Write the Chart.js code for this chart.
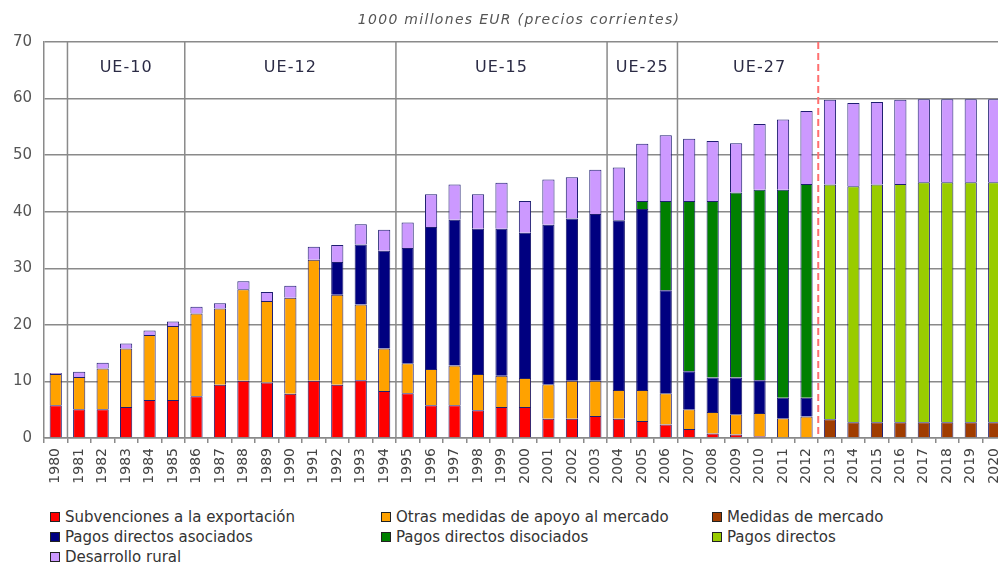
<!DOCTYPE html>
<html><head><meta charset="utf-8">
<script src="https://cdn.jsdelivr.net/npm/chart.js@4.4.0/dist/chart.umd.min.js"></script>
<style>
html,body{margin:0;padding:0;background:#fff;overflow:hidden;width:998px;height:562px;}
#wrap{position:absolute;left:0;top:0;width:1016px;height:500px;}
#legend{position:absolute;left:50px;top:507px;display:grid;grid-template-columns:331px 331px 331px;font-family:'DejaVu Sans';font-size:15px;color:#333;line-height:20px;}
.item{display:flex;align-items:center;white-space:nowrap;}
.box{width:10px;height:10px;border:1px solid #222;margin-right:5px;box-sizing:border-box;}
</style></head>
<body>
<div id="wrap"><canvas id="c" width="1016" height="500"></canvas></div>
<div id="legend"></div>
<script>
const years = ['1980','1981','1982','1983','1984','1985','1986','1987','1988','1989',
 '1990','1991','1992','1993','1994','1995','1996','1997','1998','1999',
 '2000','2001','2002','2003','2004','2005','2006','2007','2008','2009',
 '2010','2011','2012','2013','2014','2015','2016','2017','2018','2019','2020'];
const yTicks = [0,10,20,30,40,50,60,70];
const titleText = '1000 millones EUR (precios corrientes)';
const periodLabels = ['UE-10','UE-12','UE-15','UE-25','UE-27'];
const periodCenters = ['1983','1990','1999','2005','2010'];
const periodStarts = ['1981','1986','1995','2004','2007'];
const dashedStart = '2013';
const N = null;
const subvenciones = [5.8,5.1,5.1,5.5,6.7,6.7,7.4,9.4,10.1,9.8,
 7.8,10.1,9.4,10.2,8.3,7.9,5.8,5.8,4.9,5.5,
 5.5,3.4,3.4,3.9,3.4,3.0,2.4,1.6,0.8,0.6,
 0.3,N,N,N,N,N,N,N,N,N,N];
const otras = [5.5,5.7,7.2,10.3,11.5,13.1,14.6,13.5,16.2,14.4,
 17.0,21.4,15.9,13.4,7.5,5.3,6.4,7.0,6.4,5.5,
 5.1,6.1,6.7,6.2,5.1,5.5,5.5,3.5,3.8,3.6,
 4.1,3.5,3.8,N,N,N,N,N,N,N,N];
const medidas = [N,N,N,N,N,N,N,N,N,N,
 N,N,N,N,N,N,N,N,N,N,
 N,N,N,N,N,N,N,N,N,N,
 N,N,N,3.3,2.8,2.8,2.8,2.8,2.8,2.8,2.8];
const asociados = [N,N,N,N,N,N,N,N,N,N,
 N,N,5.8,10.6,17.3,20.4,25.1,25.8,25.7,26.0,
 25.7,28.2,28.7,29.5,30.0,32.0,18.2,6.7,6.1,6.5,
 5.8,3.6,3.3,N,N,N,N,N,N,N,N];
const disociados = [N,N,N,N,N,N,N,N,N,N,
 N,N,N,N,N,N,N,N,N,N,
 N,N,N,N,N,1.4,15.8,30.1,31.2,32.7,
 33.7,36.8,37.8,N,N,N,N,N,N,N,N];
const pagosDirectos = [N,N,N,N,N,N,N,N,N,N,
 N,N,N,N,N,N,N,N,N,N,
 N,N,N,N,N,N,N,N,N,N,
 N,N,N,41.5,41.7,42.0,42.1,42.4,42.4,42.4,42.4];
const rural = [0.2,0.9,1.0,0.9,0.8,0.8,1.2,0.9,1.4,1.6,
 2.1,2.3,3.0,3.6,3.7,4.5,5.8,6.2,6.1,8.1,
 5.6,8.0,7.3,7.8,9.3,10.1,11.6,11.0,10.6,8.7,
 11.6,12.4,12.9,15.0,14.7,14.6,14.9,14.7,14.7,14.7,14.7];

const series = [
 {label:'Subvenciones a la exportación', data:subvenciones, color:'#ff0000'},
 {label:'Otras medidas de apoyo al mercado', data:otras, color:'#ffa200'},
 {label:'Medidas de mercado', data:medidas, color:'#a03c00'},
 {label:'Pagos directos asociados', data:asociados, color:'#000080'},
 {label:'Pagos directos disociados', data:disociados, color:'#008000'},
 {label:'Pagos directos', data:pagosDirectos, color:'#99cc00'},
 {label:'Desarrollo rural', data:rural, color:'#cc99ff'}
];

const lg = document.getElementById('legend');
series.forEach(s=>{
  const d=document.createElement('div'); d.className='item';
  d.innerHTML='<span class="box" style="background:'+s.color+'"></span><span>'+s.label+'</span>';
  lg.appendChild(d);
});

const decor = {
  id:'decor',
  beforeDatasetsDraw(chart){
    const ctx=chart.ctx, x=chart.scales.x, a=chart.chartArea;
    const bx = lab => { const i=years.indexOf(lab); return (x.getPixelForValue(i-1)+x.getPixelForValue(i))/2; };
    ctx.save();
    ctx.strokeStyle='#8a8a8a'; ctx.lineWidth=1.5;
    periodStarts.forEach(p=>{ const px=bx(p); ctx.beginPath(); ctx.moveTo(px,a.top); ctx.lineTo(px,a.bottom); ctx.stroke(); });
    ctx.strokeStyle='#ff7070'; ctx.lineWidth=2; ctx.setLineDash([7,4]);
    const dx=bx(dashedStart); ctx.beginPath(); ctx.moveTo(dx,a.top); ctx.lineTo(dx,a.bottom-3); ctx.stroke();
    ctx.restore();
  },
  afterDraw(chart){
    const ctx=chart.ctx, x=chart.scales.x, y=chart.scales.y;
    ctx.save();
    ctx.fillStyle='#2b2b45'; ctx.font='16px "DejaVu Sans"'; ctx.textAlign='center'; ctx.textBaseline='middle';
    ctx.letterSpacing='1px';
    periodLabels.forEach((t,k)=>{ ctx.fillText(t, x.getPixelForValue(years.indexOf(periodCenters[k])), y.getPixelForValue(65.5)); });
    ctx.fillStyle='#555'; ctx.font='italic 14px "DejaVu Sans"'; ctx.letterSpacing='1.3px';
    ctx.fillText(titleText, 519, 20);
    ctx.restore();
  }
};

new Chart(document.getElementById('c'), {
  type:'bar',
  data:{ labels:years, datasets: series.map(s=>({label:s.label, data:s.data, backgroundColor:s.color, borderColor:'#1e1e70', borderWidth:1, barPercentage:0.52, categoryPercentage:1})) },
  options:{
    responsive:false, animation:false,
    layout:{padding:{top:42,left:0,right:0,bottom:0}},
    plugins:{legend:{display:false}, tooltip:{enabled:false}, title:{display:false}},
    scales:{
      x:{stacked:true, offset:true,
        grid:{offset:true, drawOnChartArea:false, drawTicks:true, tickLength:5, tickColor:'#8a8a8a', lineWidth:1.5},
        border:{display:true, color:'#8a8a8a', width:1.5},
        ticks:{minRotation:90, maxRotation:90, autoSkip:false, color:'#444', padding:5, font:{family:'DejaVu Sans', size:14}},
        afterFit(s){ s.height=62; }
      },
      y:{stacked:true, min:0, max:70,
        afterBuildTicks(s){ s.ticks = yTicks.map(v=>({value:v})); },
        grid:{color:'#8a8a8a', lineWidth:1.5, drawTicks:false},
        border:{display:true, color:'#8a8a8a', width:1.5},
        ticks:{color:'#555', padding:12, font:{family:'DejaVu Sans', size:15}},
        afterFit(s){ s.width=44; }
      }
    }
  },
  plugins:[decor]
});
</script>
</body></html>
